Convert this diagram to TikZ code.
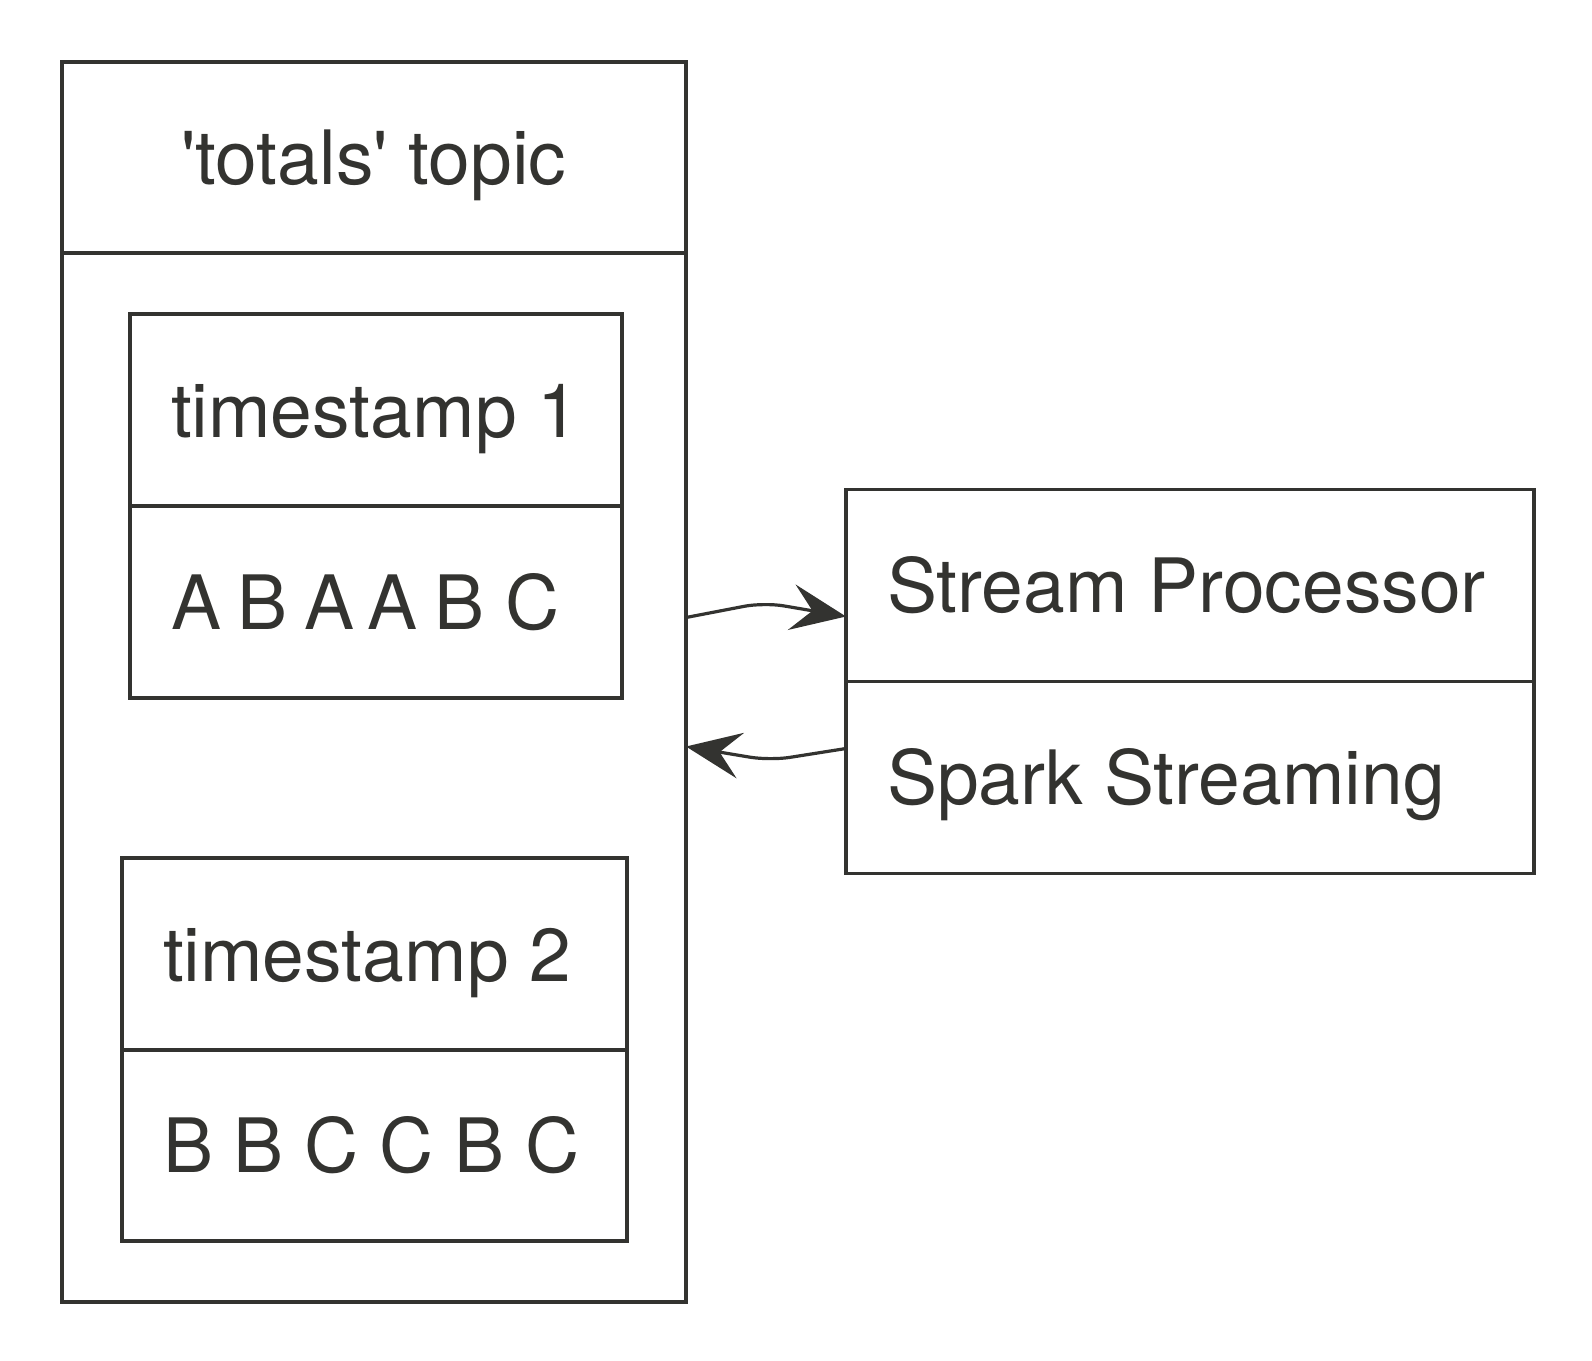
\documentclass[tikz,border=0pt]{standalone}
\usepackage{fontspec}
\setmainfont{TeX Gyre Heros}
\usepackage{tikz}
\usetikzlibrary{positioning,arrows.meta}
\definecolor{ink}{HTML}{333330}

\begin{document}
\begin{tikzpicture}[x=1pt,y=-1pt]
	\useasboundingbox (0,0) rectangle (1592,1360);
	\tikzstyle{every node}=[draw=ink, line width=3.2pt, text=ink, font=\fontsize{75}{90}\selectfont, rectangle, inner xsep=41pt, inner ysep=0pt, outer sep=0pt, text height=54pt, text depth=0pt, align=flush left]
	\tikzstyle{flow}=[draw=ink, line width=3.2pt, rounded corners=20pt, -{Stealth[length=55pt,width=46pt,inset=21pt]}]
	% the topic
	\draw (62,62) node (topic) [anchor=north west, minimum width=624pt, minimum height=191pt, align=flush center, text width=542pt]{\textquotesingle totals\textquotesingle~topic};
	\node (topicbody) [below=0pt of topic, minimum width=624pt, minimum height=1049pt]{};
	% the two messages
	\draw (130,314) node (ts1) [anchor=north west, minimum height=192pt, text width=410pt]{timestamp~1};
	\node (ts1data) [below=0pt of ts1, minimum height=192pt, text width=410pt]{A\kern-4pt~B~\kern-4pt A\kern-4pt~\kern-4pt A\kern-4pt~B~C};
	\draw (122,858) node (ts2) [anchor=north west, minimum height=192pt, text width=423pt]{timestamp~2};
	\node (ts2data) [below=0pt of ts2, minimum height=191pt, text width=423pt]{B~B~C~C~B~C};
	% the processor
	\draw (846,489.5) node (proc) [anchor=north west, minimum height=192pt, text width=606pt]{Stream~Processor};
	\node (engine) [below=0pt of proc, minimum height=192pt, text width=606pt]{Spark~Streaming};
	\draw [flow] ([yshift=160pt]topicbody.east) -- ++(78,-15) -- ([yshift=-31pt]proc.west);
	\draw [flow] ([yshift=29pt]engine.west) -- ++(-76,12) -- ([yshift=31pt]topicbody.east);
\end{tikzpicture}
\end{document}
